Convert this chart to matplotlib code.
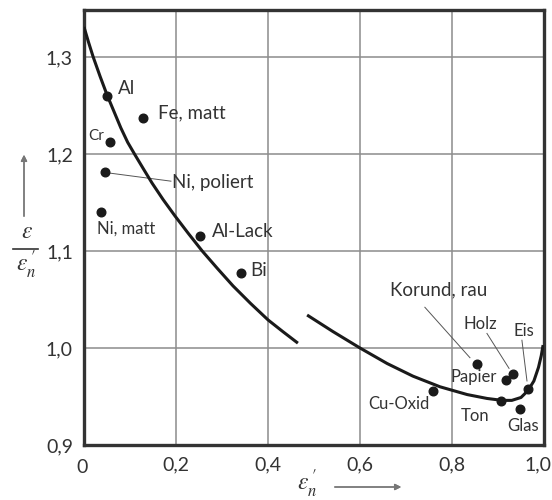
import matplotlib
matplotlib.use('Agg')
import matplotlib.pyplot as plt
from matplotlib.lines import Line2D
from matplotlib.transforms import ScaledTranslation

plt.rcParams['font.family'] = ['Lato', 'DejaVu Sans']
plt.rcParams['mathtext.fontset'] = 'stix'

# Emissionsverhältnis eps/eps_n' über eps_n'  (Metalle links, Nichtleiter rechts)
metal_x = [0.000, 0.010, 0.020, 0.035, 0.050, 0.065, 0.080, 0.095, 0.111, 0.130, 0.148,
           0.172, 0.198, 0.227, 0.257, 0.290, 0.324, 0.362, 0.400, 0.432, 0.465]
metal_y = [1.331, 1.315, 1.300, 1.280, 1.261, 1.244, 1.227, 1.212, 1.199, 1.184, 1.170,
           1.153, 1.136, 1.118, 1.100, 1.082, 1.064, 1.046, 1.029, 1.017, 1.005]

nonmetal_x = [0.485, 0.541, 0.600, 0.659, 0.715, 0.774, 0.833, 0.876, 0.909, 0.930,
              0.950, 0.965, 0.978, 0.988, 0.994, 0.998]
nonmetal_y = [1.034, 1.017, 1.000, 0.984, 0.971, 0.960, 0.952, 0.948, 0.946, 0.946,
              0.949, 0.956, 0.966, 0.980, 0.992, 1.003]

materials = ['Al', 'Fe, matt', 'Cr', 'Ni, poliert', 'Ni, matt', 'Al-Lack', 'Bi',
             'Korund, rau', 'Papier', 'Holz', 'Eis', 'Ton', 'Glas', 'Cu-Oxid']
mat_x = [0.050, 0.128, 0.057, 0.045, 0.036, 0.252, 0.341,
         0.854, 0.917, 0.933, 0.965, 0.907, 0.948, 0.759]
mat_y = [1.260, 1.237, 1.212, 1.181, 1.140, 1.115, 1.077,
         0.983, 0.967, 0.973, 0.958, 0.945, 0.937, 0.956]

xticks = [0, 0.2, 0.4, 0.6, 0.8, 1.0]
xtick_labels = ['0', '0,2', '0,4', '0,6', '0,8', '1,0']
yticks = [0.9, 1.0, 1.1, 1.2, 1.3]
ytick_labels = ['0,9', '1,0', '1,1', '1,2', '1,3']

# Beschriftung: Textposition, Schriftgröße, optional Hinweislinie (von, bis)
label_layout = {
    'Al':          ((0.074, 1.268), 13.5, None),
    'Fe, matt':    ((0.161, 1.242), 13.5, None),
    'Cr':          ((0.009, 1.219), 11, None),
    'Ni, poliert': ((0.191, 1.171), 13.5, ((0.045, 1.181), (0.189, 1.172))),
    'Ni, matt':    ((0.028, 1.123), 12, None),
    'Al-Lack':     ((0.278, 1.120), 13.5, None),
    'Bi':          ((0.361, 1.080), 13.5, None),
    'Korund, rau': ((0.665, 1.060), 13.5, ((0.741, 1.042), (0.839, 0.990))),
    'Papier':      ((0.796, 0.970), 12, None),
    'Holz':        ((0.826, 1.025), 12, ((0.876, 1.015), (0.924, 0.979))),
    'Eis':         ((0.933, 1.018), 12, ((0.952, 1.008), (0.963, 0.966))),
    'Ton':         ((0.820, 0.930), 12, None),
    'Glas':        ((0.920, 0.920), 12, None),
    'Cu-Oxid':     ((0.617, 0.942), 12, None),
}

TXT = '#333333'
GRID = '#8c8c8c'

fig = plt.figure(figsize=(5.52, 5.0), dpi=100)
ax = fig.add_axes([84 / 552, 55 / 500, 460 / 552, 435 / 500])

ax.set_xlim(0, 1.0)
ax.set_ylim(0.9, 1.3 + 47 / 970)

ax.set_xticks(xticks)
ax.set_xticklabels(xtick_labels)
ax.set_yticks(yticks)
ax.set_yticklabels(ytick_labels)
ax.tick_params(length=0, labelsize=14, colors=TXT)
ax.tick_params(axis='x', pad=8)
ax.tick_params(axis='y', pad=8)

# "1,0" ein Stück nach links, damit es nicht am Rand abgeschnitten wird
last = ax.get_xticklabels()[-1]
last.set_transform(last.get_transform() + ScaledTranslation(-6 / 100, 0, fig.dpi_scale_trans))
first = ax.get_xticklabels()[0]
first.set_transform(first.get_transform() + ScaledTranslation(-2 / 100, -3 / 100, fig.dpi_scale_trans))

for v in xticks[1:-1]:
    ax.axvline(v, color=GRID, lw=1.1, zorder=0)
for v in yticks[1:]:
    ax.axhline(v, color=GRID, lw=1.1, zorder=0)

for sp in ax.spines.values():
    sp.set_color('#333333')
    sp.set_linewidth(2.4)

ax.plot(metal_x, metal_y, color='#1a1a1a', lw=2.2, solid_capstyle='butt',
        solid_joinstyle='round', zorder=3)
ax.plot(nonmetal_x, nonmetal_y, color='#1a1a1a', lw=2.2, solid_capstyle='butt',
        solid_joinstyle='round', zorder=3)
ax.plot(mat_x, mat_y, 'o', color='#1a1a1a', ms=6.2, zorder=4, clip_on=False)

for name in materials:
    (tx, ty), fs, leader = label_layout[name]
    ax.text(tx, ty, name, fontsize=fs, color=TXT, ha='left', va='center', zorder=5)
    if leader is not None:
        (x0, y0), (x1, y1) = leader
        ax.plot([x0, x1], [y0, y1], color='#555555', lw=0.7, zorder=2)

# y-Achsenbeschriftung als Bruch mit Pfeil
fig.text(27 / 552, 1 - 232 / 500, r'$\varepsilon$', fontsize=17, color=TXT,
         ha='center', va='center')
fig.add_artist(Line2D([13 / 552, 38 / 552], [1 - 249 / 500, 1 - 249 / 500],
                      color=TXT, lw=1.2))
fig.text(26 / 552, 1 - 265 / 500, r"$\varepsilon_n^{\,\prime}$", fontsize=17, color=TXT,
         ha='center', va='center')
fig.add_artist(plt.annotate('', xy=(24 / 552, 1 - 152 / 500), xycoords='figure fraction',
                            xytext=(24 / 552, 1 - 219 / 500), textcoords='figure fraction',
                            arrowprops=dict(arrowstyle='-|>', color='#777777', lw=1.0,
                                            mutation_scale=9)))

# x-Achsenbeschriftung mit Pfeil
fig.text(307 / 552, 1 - 484 / 500, r"$\varepsilon_n^{\,\prime}$", fontsize=17, color=TXT,
         ha='center', va='center')
fig.add_artist(plt.annotate('', xy=(404 / 552, 1 - 487 / 500), xycoords='figure fraction',
                            xytext=(332 / 552, 1 - 487 / 500), textcoords='figure fraction',
                            arrowprops=dict(arrowstyle='-|>', color='#777777', lw=1.0,
                                            mutation_scale=9)))

fig.savefig('out.png', dpi=100, facecolor='white')
